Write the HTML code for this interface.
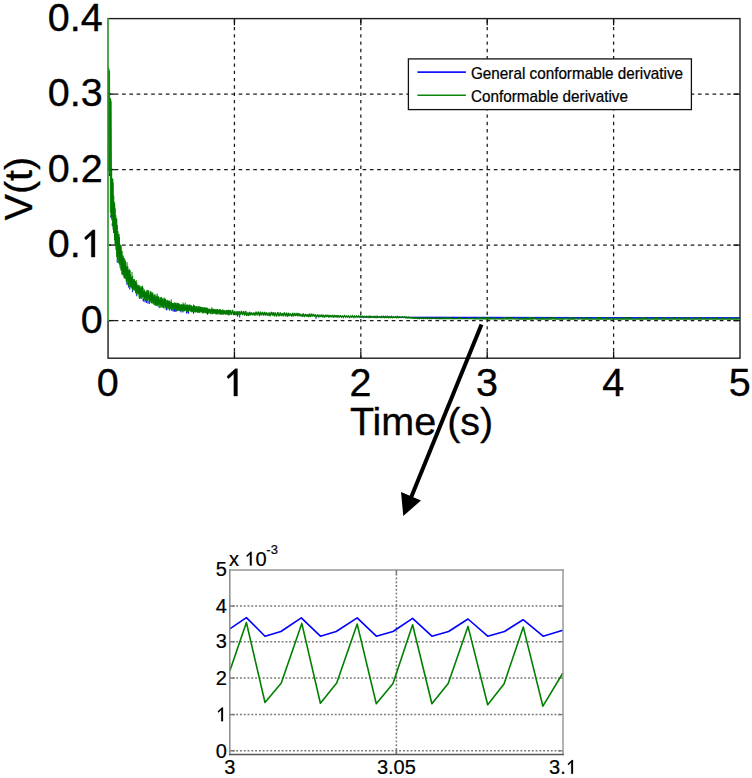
<!DOCTYPE html>
<html><head><meta charset="utf-8"><style>
html,body{margin:0;padding:0;background:#fff;width:752px;height:778px;overflow:hidden}
svg{display:block}
</style></head><body>
<svg width="752" height="778" viewBox="0 0 752 778">
<rect width="752" height="778" fill="#fff"/>
<g stroke="#1a1a1a" stroke-width="1.25" fill="none">
<line x1="234.44" y1="18.6" x2="234.44" y2="358.2" stroke-dasharray="3.35 3.95" stroke-dashoffset="6.3"/>
<line x1="360.83" y1="18.6" x2="360.83" y2="358.2" stroke-dasharray="3.35 3.95" stroke-dashoffset="6.3"/>
<line x1="487.22" y1="18.6" x2="487.22" y2="358.2" stroke-dasharray="3.35 3.95" stroke-dashoffset="6.3"/>
<line x1="613.61" y1="18.6" x2="613.61" y2="358.2" stroke-dasharray="3.35 3.95" stroke-dashoffset="6.3"/>
<line x1="108.05" y1="94.10" x2="740.0" y2="94.10" stroke-dasharray="3.65 3.64" stroke-dashoffset="0.6"/>
<line x1="108.05" y1="169.60" x2="740.0" y2="169.60" stroke-dasharray="3.65 3.64" stroke-dashoffset="0.6"/>
<line x1="108.05" y1="245.10" x2="740.0" y2="245.10" stroke-dasharray="3.65 3.64" stroke-dashoffset="0.6"/>
<line x1="108.05" y1="320.60" x2="740.0" y2="320.60" stroke-dasharray="3.65 3.64" stroke-dashoffset="0.6"/>
</g>
<g stroke="#111" stroke-width="1.3" fill="none">
<line x1="234.44" y1="358.2" x2="234.44" y2="351.5"/><line x1="234.44" y1="18.6" x2="234.44" y2="25.3"/>
<line x1="360.83" y1="358.2" x2="360.83" y2="351.5"/><line x1="360.83" y1="18.6" x2="360.83" y2="25.3"/>
<line x1="487.22" y1="358.2" x2="487.22" y2="351.5"/><line x1="487.22" y1="18.6" x2="487.22" y2="25.3"/>
<line x1="613.61" y1="358.2" x2="613.61" y2="351.5"/><line x1="613.61" y1="18.6" x2="613.61" y2="25.3"/>
<line x1="108.05" y1="94.10" x2="114.75" y2="94.10"/><line x1="740.0" y1="94.10" x2="733.3" y2="94.10"/>
<line x1="108.05" y1="169.60" x2="114.75" y2="169.60"/><line x1="740.0" y1="169.60" x2="733.3" y2="169.60"/>
<line x1="108.05" y1="245.10" x2="114.75" y2="245.10"/><line x1="740.0" y1="245.10" x2="733.3" y2="245.10"/>
<line x1="108.05" y1="320.60" x2="114.75" y2="320.60"/><line x1="740.0" y1="320.60" x2="733.3" y2="320.60"/>
</g>
<rect x="108.05" y="18.6" width="631.95" height="339.59999999999997" fill="none" stroke="#1e1e1e" stroke-width="1.4"/>
<line x1="108.05" y1="18.200000000000003" x2="108.05" y2="321.0" stroke="#52ad52" stroke-width="1.8"/>
<path d="M360.00 316.60V317.40M360.55 316.60V317.40M361.10 316.61V317.41M361.65 316.61V317.41M362.20 316.62V317.42M362.75 316.62V317.42M363.30 316.62V317.42M363.85 316.63V317.43M364.40 316.63V317.43M364.95 316.64V317.44M365.50 316.64V317.44M366.05 316.65V317.45M366.60 316.65V317.45M367.15 316.65V317.45M367.70 316.66V317.46M368.25 316.66V317.46M368.80 316.67V317.47M369.35 316.67V317.47M369.90 316.67V317.47M370.45 316.68V317.48M371.00 316.68V317.48M371.55 316.69V317.49M372.10 316.69V317.49M372.65 316.69V317.49M373.20 316.70V317.50M373.75 316.70V317.50M374.30 316.71V317.51M374.85 316.71V317.51M375.40 316.72V317.52M375.95 316.72V317.52M376.50 316.72V317.52M377.05 316.73V317.53M377.60 316.73V317.53M378.15 316.74V317.54M378.70 316.74V317.54M379.25 316.74V317.54M379.80 316.75V317.55M380.35 316.75V317.55M380.90 316.76V317.56M381.45 316.76V317.56M382.00 316.76V317.56M382.55 316.77V317.57M383.10 316.77V317.57M383.65 316.78V317.58M384.20 316.78V317.58M384.75 316.79V317.59M385.30 316.79V317.59M385.85 316.79V317.59M386.40 316.80V317.60M386.95 316.80V317.60M387.50 316.81V317.61M388.05 316.81V317.61M388.60 316.81V317.61M389.15 316.82V317.62M389.70 316.82V317.62M390.25 316.83V317.63M390.80 316.83V317.63M391.35 316.84V317.64M391.90 316.84V317.64M392.45 316.84V317.64M393.00 316.85V317.65M393.55 316.85V317.65M394.10 316.86V317.66M394.65 316.86V317.66M395.20 316.86V317.66M395.75 316.87V317.67M396.30 316.87V317.67M396.85 316.88V317.68M397.40 316.88V317.68M397.95 316.88V317.68M398.50 316.89V317.69M399.05 316.89V317.69M399.60 316.90V317.70M400.15 316.90V317.70M400.70 316.90V317.72M401.25 316.89V317.74M401.80 316.89V317.75M402.35 316.89V317.77M402.90 316.89V317.79M403.45 316.88V317.80M404.00 316.88V317.82M404.55 316.88V317.84M405.10 316.87V317.85M405.65 316.87V317.87M406.20 316.87V317.89M406.75 316.87V317.90M407.30 316.86V317.92M407.85 316.86V317.94M408.40 316.86V317.95M408.95 316.86V317.97M409.50 316.85V317.99M410.05 316.85V318.00M410.60 316.85V318.02M411.15 316.84V318.03M411.70 316.84V318.05M412.25 316.84V318.07M412.80 316.84V318.08M413.35 316.83V318.10M413.90 316.83V318.12M414.45 316.83V318.13M415.00 316.82V318.15M415.55 316.82V318.17M416.10 316.82V318.18M416.65 316.82V318.20M417.20 316.81V318.22M417.75 316.81V318.23M418.30 316.81V318.25M418.85 316.81V318.27M419.40 316.80V318.28M419.95 316.80V318.30M420.50 316.80V318.30M421.05 316.80V318.30M421.60 316.80V318.30M422.15 316.80V318.30M422.70 316.80V318.30M423.25 316.80V318.30M423.80 316.80V318.30M424.35 316.81V318.30M424.90 316.81V318.30M425.45 316.81V318.31M426.00 316.81V318.31M426.55 316.81V318.31M427.10 316.81V318.31M427.65 316.81V318.31M428.20 316.81V318.31M428.75 316.81V318.31M429.30 316.81V318.31M429.85 316.81V318.31M430.40 316.81V318.31M430.95 316.81V318.31M431.50 316.81V318.31M432.05 316.82V318.31M432.60 316.82V318.31M433.15 316.82V318.31M433.70 316.82V318.31M434.25 316.82V318.31M434.80 316.82V318.31M435.35 316.82V318.31M435.90 316.82V318.31M436.45 316.82V318.32M437.00 316.82V318.32M437.55 316.82V318.32M438.10 316.82V318.32M438.65 316.82V318.32M439.20 316.82V318.32M439.75 316.82V318.32M440.30 316.83V318.32M440.85 316.83V318.32M441.40 316.83V318.32M441.95 316.83V318.32M442.50 316.83V318.32M443.05 316.83V318.32M443.60 316.83V318.32M444.15 316.83V318.32M444.70 316.83V318.32M445.25 316.83V318.32M445.80 316.83V318.32M446.35 316.83V318.32M446.90 316.83V318.33M447.45 316.83V318.33M448.00 316.84V318.33M448.55 316.84V318.33M449.10 316.84V318.33M449.65 316.84V318.33M450.20 316.84V318.33M450.75 316.84V318.33M451.30 316.84V318.33M451.85 316.84V318.33M452.40 316.84V318.33M452.95 316.84V318.33M453.50 316.84V318.33M454.05 316.84V318.33M454.60 316.84V318.33M455.15 316.84V318.33M455.70 316.84V318.33M456.25 316.85V318.33M456.80 316.85V318.33M457.35 316.85V318.34M457.90 316.85V318.34M458.45 316.85V318.34M459.00 316.85V318.34M459.55 316.85V318.34M460.10 316.85V318.34M460.65 316.85V318.34M461.20 316.85V318.34M461.75 316.85V318.34M462.30 316.85V318.34M462.85 316.85V318.34M463.40 316.85V318.34M463.95 316.85V318.34M464.50 316.86V318.34M465.05 316.86V318.34M465.60 316.86V318.34M466.15 316.86V318.34M466.70 316.86V318.34M467.25 316.86V318.34M467.80 316.86V318.34M468.35 316.86V318.35M468.90 316.86V318.35M469.45 316.86V318.35M470.00 316.86V318.35M470.55 316.86V318.35M471.10 316.86V318.35M471.65 316.86V318.35M472.20 316.87V318.35M472.75 316.87V318.35M473.30 316.87V318.35M473.85 316.87V318.35M474.40 316.87V318.35M474.95 316.87V318.35M475.50 316.87V318.35M476.05 316.87V318.35M476.60 316.87V318.35M477.15 316.87V318.35M477.70 316.87V318.35M478.25 316.87V318.35M478.80 316.87V318.36M479.35 316.87V318.36M479.90 316.87V318.36M480.45 316.88V318.36M481.00 316.88V318.36M481.55 316.88V318.36M482.10 316.88V318.36M482.65 316.88V318.36M483.20 316.88V318.36M483.75 316.88V318.36M484.30 316.88V318.36M484.85 316.88V318.36M485.40 316.88V318.36M485.95 316.88V318.36M486.50 316.88V318.36M487.05 316.88V318.36M487.60 316.88V318.36M488.15 316.89V318.36M488.70 316.89V318.36M489.25 316.89V318.36M489.80 316.89V318.37M490.35 316.89V318.37M490.90 316.89V318.37M491.45 316.89V318.37M492.00 316.89V318.37M492.55 316.89V318.37M493.10 316.89V318.37M493.65 316.89V318.37M494.20 316.89V318.37M494.75 316.89V318.37M495.30 316.89V318.37M495.85 316.89V318.37M496.40 316.90V318.37M496.95 316.90V318.37M497.50 316.90V318.37M498.05 316.90V318.37M498.60 316.90V318.37M499.15 316.90V318.37M499.70 316.90V318.37M500.25 316.90V318.38M500.80 316.90V318.38M501.35 316.90V318.38M501.90 316.90V318.38M502.45 316.90V318.38M503.00 316.90V318.38M503.55 316.90V318.38M504.10 316.91V318.38M504.65 316.91V318.38M505.20 316.91V318.38M505.75 316.91V318.38M506.30 316.91V318.38M506.85 316.91V318.38M507.40 316.91V318.38M507.95 316.91V318.38M508.50 316.91V318.38M509.05 316.91V318.38M509.60 316.91V318.38M510.15 316.91V318.38M510.70 316.91V318.39M511.25 316.91V318.39M511.80 316.91V318.39M512.35 316.92V318.39M512.90 316.92V318.39M513.45 316.92V318.39M514.00 316.92V318.39M514.55 316.92V318.39M515.10 316.92V318.39M515.65 316.92V318.39M516.20 316.92V318.39M516.75 316.92V318.39M517.30 316.92V318.39M517.85 316.92V318.39M518.40 316.92V318.39M518.95 316.92V318.39M519.50 316.92V318.39M520.05 316.93V318.39M520.60 316.93V318.39M521.15 316.93V318.39M521.70 316.93V318.40M522.25 316.93V318.40M522.80 316.93V318.40M523.35 316.93V318.40M523.90 316.93V318.40M524.45 316.93V318.40M525.00 316.93V318.40M525.55 316.93V318.40M526.10 316.93V318.40M526.65 316.93V318.40M527.20 316.93V318.40M527.75 316.93V318.40M528.30 316.94V318.40M528.85 316.94V318.40M529.40 316.94V318.40M529.95 316.94V318.40M530.50 316.94V318.40M531.05 316.94V318.40M531.60 316.94V318.40M532.15 316.94V318.41M532.70 316.94V318.41M533.25 316.94V318.41M533.80 316.94V318.41M534.35 316.94V318.41M534.90 316.94V318.41M535.45 316.94V318.41M536.00 316.94V318.41M536.55 316.95V318.41M537.10 316.95V318.41M537.65 316.95V318.41M538.20 316.95V318.41M538.75 316.95V318.41M539.30 316.95V318.41M539.85 316.95V318.41M540.40 316.95V318.41M540.95 316.95V318.41M541.50 316.95V318.41M542.05 316.95V318.41M542.60 316.95V318.41M543.15 316.95V318.42M543.70 316.95V318.42M544.25 316.96V318.42M544.80 316.96V318.42M545.35 316.96V318.42M545.90 316.96V318.42M546.45 316.96V318.42M547.00 316.96V318.42M547.55 316.96V318.42M548.10 316.96V318.42M548.65 316.96V318.42M549.20 316.96V318.42M549.75 316.96V318.42M550.30 316.96V318.42M550.85 316.96V318.42M551.40 316.96V318.42M551.95 316.96V318.42M552.50 316.97V318.42M553.05 316.97V318.42M553.60 316.97V318.43M554.15 316.97V318.43M554.70 316.97V318.43M555.25 316.97V318.43M555.80 316.97V318.43M556.35 316.97V318.43M556.90 316.97V318.43M557.45 316.97V318.43M558.00 316.97V318.43M558.55 316.97V318.43M559.10 316.97V318.43M559.65 316.97V318.43M560.20 316.98V318.43M560.75 316.98V318.43M561.30 316.98V318.43M561.85 316.98V318.43M562.40 316.98V318.43M562.95 316.98V318.43M563.50 316.98V318.43M564.05 316.98V318.44M564.60 316.98V318.44M565.15 316.98V318.44M565.70 316.98V318.44M566.25 316.98V318.44M566.80 316.98V318.44M567.35 316.98V318.44M567.90 316.98V318.44M568.45 316.99V318.44M569.00 316.99V318.44M569.55 316.99V318.44M570.10 316.99V318.44M570.65 316.99V318.44M571.20 316.99V318.44M571.75 316.99V318.44M572.30 316.99V318.44M572.85 316.99V318.44M573.40 316.99V318.44M573.95 316.99V318.44M574.50 316.99V318.44M575.05 316.99V318.45M575.60 316.99V318.45M576.15 317.00V318.45M576.70 317.00V318.45M577.25 317.00V318.45M577.80 317.00V318.45M578.35 317.00V318.45M578.90 317.00V318.45M579.45 317.00V318.45M580.00 317.00V318.45M580.55 317.00V318.45M581.10 317.00V318.45M581.65 317.00V318.45M582.20 317.00V318.45M582.75 317.00V318.45M583.30 317.00V318.45M583.85 317.00V318.45M584.40 317.01V318.45M584.95 317.01V318.45M585.50 317.01V318.46M586.05 317.01V318.46M586.60 317.01V318.46M587.15 317.01V318.46M587.70 317.01V318.46M588.25 317.01V318.46M588.80 317.01V318.46M589.35 317.01V318.46M589.90 317.01V318.46M590.45 317.01V318.46M591.00 317.01V318.46M591.55 317.01V318.46M592.10 317.02V318.46M592.65 317.02V318.46M593.20 317.02V318.46M593.75 317.02V318.46M594.30 317.02V318.46M594.85 317.02V318.46M595.40 317.02V318.46M595.95 317.02V318.46M596.50 317.02V318.47M597.05 317.02V318.47M597.60 317.02V318.47M598.15 317.02V318.47M598.70 317.02V318.47M599.25 317.02V318.47M599.80 317.02V318.47M600.35 317.03V318.47M600.90 317.03V318.47M601.45 317.03V318.47M602.00 317.03V318.47M602.55 317.03V318.47M603.10 317.03V318.47M603.65 317.03V318.47M604.20 317.03V318.47M604.75 317.03V318.47M605.30 317.03V318.47M605.85 317.03V318.47M606.40 317.03V318.47M606.95 317.03V318.48M607.50 317.03V318.48M608.05 317.04V318.48M608.60 317.04V318.48M609.15 317.04V318.48M609.70 317.04V318.48M610.25 317.04V318.48M610.80 317.04V318.48M611.35 317.04V318.48M611.90 317.04V318.48M612.45 317.04V318.48M613.00 317.04V318.48M613.55 317.04V318.48M614.10 317.04V318.48M614.65 317.04V318.48M615.20 317.04V318.48M615.75 317.04V318.48M616.30 317.05V318.48M616.85 317.05V318.48M617.40 317.05V318.49M617.95 317.05V318.49M618.50 317.05V318.49M619.05 317.05V318.49M619.60 317.05V318.49M620.15 317.05V318.49M620.70 317.05V318.49M621.25 317.05V318.49M621.80 317.05V318.49M622.35 317.05V318.49M622.90 317.05V318.49M623.45 317.05V318.49M624.00 317.06V318.49M624.55 317.06V318.49M625.10 317.06V318.49M625.65 317.06V318.49M626.20 317.06V318.49M626.75 317.06V318.49M627.30 317.06V318.49M627.85 317.06V318.49M628.40 317.06V318.50M628.95 317.06V318.50M629.50 317.06V318.50M630.05 317.06V318.50M630.60 317.06V318.50M631.15 317.06V318.50M631.70 317.06V318.50M632.25 317.07V318.50M632.80 317.07V318.50M633.35 317.07V318.50M633.90 317.07V318.50M634.45 317.07V318.50M635.00 317.07V318.50M635.55 317.07V318.50M636.10 317.07V318.50M636.65 317.07V318.50M637.20 317.07V318.50M637.75 317.07V318.50M638.30 317.07V318.50M638.85 317.07V318.51M639.40 317.07V318.51M639.95 317.07V318.51M640.50 317.08V318.51M641.05 317.08V318.51M641.60 317.08V318.51M642.15 317.08V318.51M642.70 317.08V318.51M643.25 317.08V318.51M643.80 317.08V318.51M644.35 317.08V318.51M644.90 317.08V318.51M645.45 317.08V318.51M646.00 317.08V318.51M646.55 317.08V318.51M647.10 317.08V318.51M647.65 317.08V318.51M648.20 317.09V318.51M648.75 317.09V318.51M649.30 317.09V318.51M649.85 317.09V318.52M650.40 317.09V318.52M650.95 317.09V318.52M651.50 317.09V318.52M652.05 317.09V318.52M652.60 317.09V318.52M653.15 317.09V318.52M653.70 317.09V318.52M654.25 317.09V318.52M654.80 317.09V318.52M655.35 317.09V318.52M655.90 317.09V318.52M656.45 317.10V318.52M657.00 317.10V318.52M657.55 317.10V318.52M658.10 317.10V318.52M658.65 317.10V318.52M659.20 317.10V318.52M659.75 317.10V318.52M660.30 317.10V318.53M660.85 317.10V318.53M661.40 317.10V318.53M661.95 317.10V318.53M662.50 317.10V318.53M663.05 317.10V318.53M663.60 317.10V318.53M664.15 317.11V318.53M664.70 317.11V318.53M665.25 317.11V318.53M665.80 317.11V318.53M666.35 317.11V318.53M666.90 317.11V318.53M667.45 317.11V318.53M668.00 317.11V318.53M668.55 317.11V318.53M669.10 317.11V318.53M669.65 317.11V318.53M670.20 317.11V318.53M670.75 317.11V318.54M671.30 317.11V318.54M671.85 317.11V318.54M672.40 317.12V318.54M672.95 317.12V318.54M673.50 317.12V318.54M674.05 317.12V318.54M674.60 317.12V318.54M675.15 317.12V318.54M675.70 317.12V318.54M676.25 317.12V318.54M676.80 317.12V318.54M677.35 317.12V318.54M677.90 317.12V318.54M678.45 317.12V318.54M679.00 317.12V318.54M679.55 317.12V318.54M680.10 317.13V318.54M680.65 317.13V318.54M681.20 317.13V318.54M681.75 317.13V318.55M682.30 317.13V318.55M682.85 317.13V318.55M683.40 317.13V318.55M683.95 317.13V318.55M684.50 317.13V318.55M685.05 317.13V318.55M685.60 317.13V318.55M686.15 317.13V318.55M686.70 317.13V318.55M687.25 317.13V318.55M687.80 317.13V318.55M688.35 317.14V318.55M688.90 317.14V318.55M689.45 317.14V318.55M690.00 317.14V318.55M690.55 317.14V318.55M691.10 317.14V318.55M691.65 317.14V318.55M692.20 317.14V318.56M692.75 317.14V318.56M693.30 317.14V318.56M693.85 317.14V318.56M694.40 317.14V318.56M694.95 317.14V318.56M695.50 317.14V318.56M696.05 317.15V318.56M696.60 317.15V318.56M697.15 317.15V318.56M697.70 317.15V318.56M698.25 317.15V318.56M698.80 317.15V318.56M699.35 317.15V318.56M699.90 317.15V318.56M700.45 317.15V318.56M701.00 317.15V318.56M701.55 317.15V318.56M702.10 317.15V318.56M702.65 317.15V318.56M703.20 317.15V318.57M703.75 317.15V318.57M704.30 317.16V318.57M704.85 317.16V318.57M705.40 317.16V318.57M705.95 317.16V318.57M706.50 317.16V318.57M707.05 317.16V318.57M707.60 317.16V318.57M708.15 317.16V318.57M708.70 317.16V318.57M709.25 317.16V318.57M709.80 317.16V318.57M710.35 317.16V318.57M710.90 317.16V318.57M711.45 317.16V318.57M712.00 317.16V318.57M712.55 317.17V318.57M713.10 317.17V318.57M713.65 317.17V318.58M714.20 317.17V318.58M714.75 317.17V318.58M715.30 317.17V318.58M715.85 317.17V318.58M716.40 317.17V318.58M716.95 317.17V318.58M717.50 317.17V318.58M718.05 317.17V318.58M718.60 317.17V318.58M719.15 317.17V318.58M719.70 317.17V318.58M720.25 317.18V318.58M720.80 317.18V318.58M721.35 317.18V318.58M721.90 317.18V318.58M722.45 317.18V318.58M723.00 317.18V318.58M723.55 317.18V318.58M724.10 317.18V318.59M724.65 317.18V318.59M725.20 317.18V318.59M725.75 317.18V318.59M726.30 317.18V318.59M726.85 317.18V318.59M727.40 317.18V318.59M727.95 317.18V318.59M728.50 317.19V318.59M729.05 317.19V318.59M729.60 317.19V318.59M730.15 317.19V318.59M730.70 317.19V318.59M731.25 317.19V318.59M731.80 317.19V318.59M732.35 317.19V318.59M732.90 317.19V318.59M733.45 317.19V318.59M734.00 317.19V318.59M734.55 317.19V318.59M735.10 317.19V318.60M735.65 317.19V318.60M736.20 317.20V318.60M736.75 317.20V318.60M737.30 317.20V318.60M737.85 317.20V318.60M738.40 317.20V318.60M738.95 317.20V318.60M739.50 317.20V318.60M109.50 173.20V176.10M110.90 215.20V217.82M112.30 223.64V226.24M117.20 259.46V262.59M127.00 282.09V284.97M128.40 284.34V287.55M129.80 286.58V289.62M132.60 289.47V292.13M136.80 293.63V296.26M139.60 296.40V298.93M143.10 298.29V300.93M143.80 298.62V301.80M145.20 299.30V302.39M146.60 299.97V302.95M148.00 300.64V303.78M149.40 301.31V303.83M159.20 305.56V308.11M166.20 307.20V310.20M166.90 307.35V310.20M169.70 307.94V310.72M171.80 308.29V310.98M173.20 308.51V311.71M174.60 308.74V311.63M175.30 308.85V311.84M176.70 309.07V311.66M180.90 309.69V312.44M183.00 309.90V312.47M186.50 310.25V313.40M187.90 310.39V313.26M188.60 310.46V313.60M193.50 310.88V313.69M207.50 312.05V314.67M237.60 314.07V316.63M239.70 314.21V317.51M316.00 316.03V318.83" fill="none" stroke="#0000ff" stroke-width="1"/>
<path d="M108.90 68.16V171.13M109.60 70.56V173.94M110.30 97.94V212.76M111.00 101.22V216.79M111.70 168.12V220.17M112.40 179.18V225.63M113.10 182.64V229.56M113.80 195.70V233.16M114.50 202.23V240.26M115.20 208.32V245.17M115.90 214.92V249.94M116.60 218.97V256.91M117.30 225.10V259.44M118.00 231.08V262.70M118.70 234.55V263.44M119.40 237.03V263.50M120.10 244.21V268.03M120.80 245.29V270.59M121.50 251.74V269.60M122.20 251.00V275.33M122.90 255.03V274.17M123.60 257.78V275.47M124.30 258.12V278.26M125.00 259.26V278.88M125.70 266.34V278.71M126.40 265.92V282.49M127.10 262.26V280.93M127.80 266.36V284.30M128.50 270.14V286.03M129.20 268.77V286.92M129.90 270.24V286.52M130.60 274.52V287.17M131.30 276.99V287.97M132.00 271.98V289.10M132.70 275.69V290.90M133.40 279.45V289.70M134.10 279.72V290.57M134.80 281.39V290.28M135.50 281.08V292.98M136.20 279.96V294.51M136.90 282.48V293.81M137.60 285.72V293.40M138.30 285.42V293.37M139.00 285.70V297.54M139.70 285.35V298.14M140.40 288.69V298.23M141.10 287.62V298.94M141.80 287.46V298.91M142.50 285.71V297.43M143.20 287.69V297.20M143.90 291.98V298.66M144.60 289.67V300.23M145.30 292.54V300.85M146.00 291.77V300.75M146.70 290.32V301.02M147.40 289.82V300.96M148.10 290.82V300.18M148.80 290.09V299.72M149.50 295.31V302.74M150.20 293.39V300.94M150.90 291.38V301.48M151.60 292.46V303.00M152.30 294.28V303.61M153.00 294.85V301.93M153.70 295.20V304.52M154.40 294.22V305.24M155.10 295.65V303.32M155.80 294.43V305.88M156.50 296.52V306.02M157.20 293.48V305.35M157.90 295.68V306.66M158.60 296.32V305.87M159.30 300.00V304.34M160.00 298.82V305.20M160.70 297.10V307.74M161.40 296.77V306.59M162.10 298.18V308.07M162.80 298.68V306.90M163.50 300.21V308.28M164.20 297.53V308.53M164.90 299.87V306.30M165.60 298.93V306.73M166.30 302.60V307.20M167.00 299.87V308.55M167.70 300.50V308.63M168.40 300.76V309.38M169.10 300.69V308.32M169.80 300.93V307.87M170.50 303.79V308.50M171.20 299.40V309.99M171.90 303.01V307.74M172.60 303.01V310.18M173.30 303.03V309.33M174.00 302.82V309.40M174.70 302.30V308.68M175.40 302.78V309.52M176.10 305.25V309.56M176.80 302.59V310.87M177.50 305.74V311.00M178.20 303.11V309.95M178.90 303.45V310.93M179.60 303.91V311.05M180.30 305.42V311.35M181.00 305.81V311.35M181.70 304.09V311.33M182.40 304.91V310.93M183.10 302.52V310.17M183.80 304.12V311.44M184.50 304.76V310.77M185.20 302.70V310.21M185.90 306.27V309.97M186.60 304.57V311.44M187.30 305.79V311.64M188.00 304.79V311.77M188.70 305.34V312.19M189.40 306.21V310.64M190.10 307.24V310.77M190.80 305.14V311.77M191.50 305.38V312.28M192.20 306.46V312.10M192.90 305.93V312.31M193.60 304.48V312.42M194.30 306.66V311.67M195.00 305.92V312.45M195.70 306.40V312.46M196.40 305.94V311.96M197.10 306.28V310.93M197.80 308.11V313.01M198.50 306.97V312.58M199.20 306.16V312.45M199.90 306.73V313.09M200.60 307.38V311.87M201.30 307.53V311.75M202.00 307.40V313.29M202.70 307.92V313.36M203.40 307.98V313.01M204.10 307.48V313.39M204.80 307.42V312.40M205.50 307.84V312.95M206.20 307.51V313.64M206.90 308.10V313.55M207.60 307.97V312.78M208.30 309.20V312.86M209.00 309.42V313.75M209.70 309.51V312.55M210.40 309.90V314.06M211.10 308.82V312.68M211.80 307.43V314.22M212.50 308.44V314.19M213.20 309.28V314.00M213.90 308.80V313.72M214.60 309.39V313.08M215.30 309.65V314.09M216.00 310.13V314.53M216.70 309.15V313.54M217.40 309.02V314.30M218.10 310.19V314.41M218.80 309.82V313.33M219.50 309.61V314.24M220.20 310.77V314.74M220.90 309.96V314.41M221.60 309.94V314.49M222.30 309.68V314.18M223.00 309.48V314.70M223.70 310.15V313.37M224.40 311.25V313.65M225.10 310.59V314.12M225.80 310.80V314.60M226.50 310.18V314.13M227.20 310.00V314.43M227.90 309.83V315.17M228.60 309.85V315.28M229.30 310.54V315.30M230.00 310.05V314.86M406.65 317.03V318.60M408.30 317.03V318.60M409.95 317.26V318.60M413.80 317.33V318.60M414.35 317.53V318.60M414.90 317.41V318.60M416.00 317.54V318.60M417.10 317.42V318.60M417.65 317.30V318.60M418.75 317.19V318.60M419.85 317.09V318.60M422.05 317.19V318.60M424.25 317.01V318.60M425.35 317.51V318.60M428.65 317.44V318.60M430.85 317.38V318.60M431.40 317.42V318.60M433.60 317.23V318.60M438.55 317.43V318.60M441.85 317.24V318.60M442.40 317.25V318.60M444.60 317.59V318.60M445.15 317.49V318.60M445.70 317.24V318.60M446.25 317.51V318.60M447.35 317.32V318.60M447.90 317.30V318.60M449.00 317.52V318.60M449.55 317.27V318.60M450.10 317.00V318.60M450.65 317.21V318.60M458.90 317.02V318.60M459.45 317.13V318.60M460.00 317.03V318.60M460.55 317.36V318.60M467.15 317.52V318.60M469.35 317.30V318.60M469.90 317.03V318.60M472.10 317.33V318.60M476.50 317.33V318.60M477.60 317.59V318.60M479.25 317.27V318.60M479.80 317.03V318.60M480.35 317.15V318.60M481.45 317.41V318.60M482.00 317.04V318.60M482.55 317.41V318.60M484.75 317.29V318.60M485.85 317.44V318.60M486.40 317.12V318.60M486.95 317.06V318.60M488.60 317.00V318.60M489.15 317.13V318.60M491.90 317.37V318.60M493.00 317.51V318.60M494.65 317.38V318.60M495.75 317.46V318.60M501.25 317.17V318.60M501.80 317.04V318.60M503.45 317.09V318.60M504.55 317.22V318.60M505.65 317.25V318.60M506.75 317.04V318.60M508.40 317.29V318.60M508.95 317.54V318.60M510.05 317.31V318.60M510.60 317.24V318.60M512.25 317.20V318.60M516.10 317.22V318.60M519.95 317.19V318.60M522.15 317.47V318.60M524.35 317.31V318.60M524.90 317.21V318.60M527.10 317.60V318.60M528.75 317.39V318.60M529.30 317.22V318.60M529.85 317.04V318.60M530.40 317.11V318.60M531.50 317.50V318.60M532.05 317.03V318.60M532.60 317.56V318.60M533.70 317.56V318.60M534.25 317.16V318.60M535.35 317.58V318.60M537.55 317.44V318.60M539.20 317.48V318.60M541.40 317.18V318.60M542.50 317.35V318.60M543.05 317.15V318.60M544.70 317.42V318.60M548.55 317.42V318.60M550.75 317.13V318.60M551.85 317.15V318.60M552.40 317.19V318.60M553.50 317.17V318.60M554.05 317.09V318.60M556.80 317.21V318.60M560.65 317.55V318.60M561.75 317.13V318.60M563.95 317.11V318.60M567.25 317.39V318.60M568.90 317.07V318.60M570.00 317.27V318.60M570.55 317.42V318.60M571.65 317.55V318.60M572.20 317.18V318.60M573.85 317.44V318.60M574.95 317.10V318.60M576.05 317.56V318.60M579.90 317.02V318.60M581.00 317.57V318.60M583.20 317.01V318.60M583.75 317.27V318.60M584.30 317.17V318.60M586.50 317.32V318.60M587.60 317.51V318.60M590.35 317.34V318.60M593.65 317.12V318.60M596.40 317.32V318.60M597.50 317.29V318.60M598.60 317.03V318.60M599.15 317.41V318.60M600.25 317.51V318.60M600.80 317.32V318.60M601.90 317.29V318.60M606.30 317.20V318.60M606.85 317.24V318.60M607.95 317.25V318.60M609.60 317.43V318.60M611.80 317.50V318.60M612.90 317.56V318.60M613.45 317.12V318.60M616.75 317.56V318.60M618.95 317.49V318.60M620.05 317.21V318.60M621.70 317.53V318.60M622.25 317.44V318.60M624.45 317.29V318.60M626.10 317.01V318.60M628.30 317.22V318.60M630.50 317.20V318.60M633.80 317.59V318.60M635.45 317.54V318.60M637.65 317.46V318.60M638.75 317.50V318.60M640.95 317.14V318.60M642.05 317.08V318.60M643.70 317.20V318.60M644.25 317.08V318.60M644.80 317.35V318.60M645.90 317.50V318.60M648.10 317.48V318.60M649.75 317.15V318.60M653.60 317.34V318.60M654.70 317.28V318.60M656.35 317.31V318.60M656.90 317.04V318.60M658.00 317.30V318.60M659.10 317.59V318.60M662.95 317.53V318.60M663.50 317.44V318.60M664.05 317.18V318.60M664.60 317.37V318.60M665.15 317.34V318.60M665.70 317.24V318.60M669.55 317.14V318.60M670.10 317.24V318.60M671.75 317.10V318.60M674.50 317.33V318.60M678.35 317.16V318.60M678.90 317.03V318.60M679.45 317.54V318.60M681.65 317.21V318.60M683.85 317.03V318.60M684.40 317.45V318.60M685.50 317.49V318.60M686.05 317.50V318.60M688.25 317.56V318.60M688.80 317.16V318.60M691.55 317.07V318.60M694.30 317.09V318.60M695.40 317.02V318.60M698.15 317.57V318.60M698.70 317.29V318.60M699.80 317.06V318.60M700.35 317.48V318.60M704.20 317.40V318.60M704.75 317.31V318.60M710.80 317.27V318.60M711.35 317.13V318.60M714.65 317.43V318.60M715.75 317.21V318.60M716.85 317.48V318.60M721.80 317.55V318.60M722.35 317.17V318.60M723.45 317.25V318.60M727.30 317.41V318.60M728.40 317.47V318.60M729.50 317.37V318.60M730.05 317.22V318.60M733.35 317.59V318.60M733.90 317.54V318.60M735.55 317.28V318.60M737.75 317.02V318.60M738.85 317.58V318.60" fill="none" stroke="#008000" stroke-width="1"/>
<path d="M110.60,99.19 L111.54,217.26 L112.62,178.60 L113.65,232.94 L114.55,203.88 L115.44,246.20 L116.50,218.32 L117.58,259.47 L118.83,233.81 L119.94,265.32 L120.90,245.23 L122.15,274.10 L123.12,256.33 L124.21,277.78 L125.37,261.15 L126.51,281.80 L127.39,266.87 L128.62,285.66 L129.72,270.04 L130.87,286.92 L131.81,276.52 L132.92,289.12 L134.11,279.18 L135.27,290.56 L136.15,283.25 L137.15,294.16 L138.06,284.71 L139.02,294.43 L139.97,286.35 L140.98,297.02 L141.90,286.41 L143.06,297.50 L144.14,290.30 L145.06,298.09 L145.97,291.56 L147.08,300.06 L148.32,292.18 L149.50,302.62 L150.49,291.44 L151.41,303.22 L152.61,292.64 L153.58,303.45 L154.77,296.35 L155.91,305.17 L156.98,296.51 L157.84,304.74 L158.84,297.10 L159.96,305.72 L161.02,298.01 L161.94,306.71 L162.83,298.53 L163.90,306.34 L164.90,298.57 L165.97,308.23 L167.12,300.05 L168.12,306.95 L169.12,300.78 L170.11,308.60 L170.99,301.82 L172.21,308.77 L173.37,303.51 L174.56,308.73 L175.74,303.73 L176.69,309.71 L177.67,303.03 L178.75,310.36 L179.85,304.20 L180.74,310.42 L181.74,304.70 L182.62,311.03 L183.67,304.28 L184.79,311.02 L185.71,305.70 L186.66,311.46 L187.61,304.61 L188.55,311.03 L189.78,304.56 L190.80,310.96 L192.01,306.66 L192.91,311.43 L194.12,305.26 L195.21,312.19 L196.37,307.18 L197.43,312.49 L198.30,306.43 L199.50,312.47 L200.62,306.80 L201.57,311.91 L202.54,307.03 L203.70,312.48 L204.87,307.58 L205.78,312.75 L206.98,307.96 L208.23,313.41 L209.21,308.64 L210.34,312.99 L211.46,309.15 L212.59,313.22 L213.66,309.06 L214.64,313.21 L215.74,309.51 L216.78,314.10 L217.84,309.80 L218.95,313.54 L219.96,309.16 L221.10,314.34 L222.30,310.15 L223.55,314.45 L224.43,310.34 L225.44,314.44 L226.44,310.07 L227.35,314.29 L228.47,310.32 L229.31,313.89 L230.34,310.03 L231.41,314.79 L232.63,309.95 L233.69,315.03 L234.79,311.10 L236.00,315.20 L237.11,311.27 L238.03,315.06 L239.17,311.17 L240.20,314.90 L241.32,310.81 L242.43,315.14 L243.57,311.20 L244.55,315.48 L245.77,311.04 L246.68,315.98 L247.87,312.33 L248.81,315.95 L249.74,311.85 L250.78,315.30 L251.71,312.36 L252.74,315.36 L253.92,312.48 L254.97,315.70 L256.05,311.60 L257.10,315.24 L258.32,311.59 L259.44,316.11 L260.33,311.71 L261.51,315.26 L262.57,312.00 L263.62,315.52 L264.77,311.82 L265.70,315.49 L266.75,312.48 L267.92,315.87 L269.07,312.40 L270.00,316.39 L271.26,312.02 L272.39,315.59 L273.33,312.10 L274.33,316.33 L275.37,312.47 L276.60,316.53 L277.84,312.26 L279.07,316.40 L280.22,312.33 L281.25,316.04 L282.35,313.17 L283.26,316.40 L284.35,312.47 L285.54,316.42 L286.49,312.65 L287.60,316.72 L288.54,312.78 L289.49,316.11 L290.58,313.56 L291.72,316.62 L292.69,312.80 L293.63,316.34 L294.78,312.98 L295.77,316.12 L297.01,312.92 L297.88,316.22 L298.93,313.24 L300.03,316.25 L300.90,313.97 L302.14,316.70 L303.18,313.34 L304.27,316.93 L305.33,314.13 L306.39,316.38 L307.30,314.22 L308.19,317.03 L309.33,313.74 L310.22,317.15 L311.40,313.72 L312.26,316.43 L313.43,314.04 L314.35,316.60 L315.52,314.44 L316.58,317.03 L317.83,314.44 L318.71,317.38 L319.80,314.75 L320.90,316.96 L321.87,314.56 L322.82,317.33 L323.77,315.08 L324.67,317.49 L325.81,314.82 L326.80,316.91 L328.01,314.85 L328.92,317.43 L330.00,315.04 L331.09,317.31 L332.27,315.06 L333.38,317.67 L334.25,315.05 L335.14,317.22 L336.13,315.33 L337.16,317.59 L338.02,315.22 L339.22,317.52 L340.24,315.32 L341.39,317.28 L342.39,315.52 L343.40,317.36 L344.49,315.63 L345.70,317.09 L346.57,315.58 L347.42,317.46 L348.60,315.81 L349.68,317.56 L350.86,315.83 L351.83,317.22 L352.68,315.69 L353.85,317.54 L354.75,315.89 L355.89,317.33 L356.74,315.85 L357.88,317.43 L358.80,315.86 L359.75,317.14 L360.61,316.07 L361.83,317.28 L362.79,316.14 L363.68,317.39 L364.63,316.29 L365.84,317.29 L366.83,316.27 L368.09,317.48 L369.15,316.05 L370.03,317.35 L370.90,316.23 L371.79,317.39 L372.94,316.42 L373.95,317.53 L374.95,316.33 L376.12,317.63 L377.10,316.13 L378.04,317.42 L379.27,316.52 L380.14,317.58 L381.35,316.32 L382.33,317.44 L383.54,316.23 L384.59,317.70 L385.51,316.38 L386.46,317.47 L387.45,316.29 L388.55,317.70 L389.42,316.66 L390.34,317.75 L391.38,316.32 L392.55,317.78 L393.41,316.69 L394.47,317.48 L395.68,316.60 L396.54,317.64 L397.40,316.40 L398.60,317.78 L399.75,316.57 L400.92,317.68 L402.17,316.58 L403.37,317.62 L404.45,316.62 L405.48,317.73 L406.40,316.81 L407.51,317.89 L408.44,317.06 L409.62,317.82 L410.81,317.52 L411.90,317.99 L413.11,317.85 L414.24,318.02 L415.39,318.19 L416.64,317.98 L417.70,318.62 L418.64,318.04 L419.51,318.62 L420.47,318.10 L421.49,318.61 L422.34,318.11 L423.59,318.69 L424.61,318.15 L425.50,318.64 L426.62,318.10 L427.65,318.71 L428.83,318.12 L429.81,318.66 L430.72,318.19 L431.58,318.66 L432.49,318.23 L433.40,318.62 L434.42,318.26 L435.49,318.63 L436.54,318.30 L437.41,318.66 L438.53,318.33 L439.67,318.72 L440.52,318.36 L441.48,318.69 L442.52,318.35 L443.39,318.66 L444.30,318.35 L445.43,318.66 L446.63,318.45 L447.48,318.67 L448.60,318.37 L449.66,318.65 L450.75,318.51 L451.93,318.67 L452.81,318.53 L454.00,318.76 L454.92,318.44 L456.12,318.68 L456.98,318.59 L458.00,318.67 L458.92,318.61 L460.13,318.66 L461.36,318.62 L462.51,318.71 L463.74,318.68 L464.69,318.71 L465.74,318.69 L466.71,318.67 L467.76,318.65 L468.97,318.71 L470.22,318.66 L471.19,318.68 L472.38,318.69 L473.50,318.80 L474.54,318.79 L475.41,318.71 L476.64,318.86 L477.53,318.69 L478.58,318.83 L479.65,318.79 L480.77,318.85 L481.87,318.74 L482.74,318.94 L483.85,318.71 L484.86,318.91 L485.95,318.71 L486.91,318.99 L488.02,318.78 L488.92,318.98 L489.82,318.76 L490.79,318.90 L491.74,318.77 L492.85,318.89 L493.99,318.82 L495.07,319.01 L496.05,318.79 L497.04,318.94 L497.92,318.77 L498.93,318.90 L499.80,318.74 L500.96,318.98 L501.99,318.74 L502.87,318.99 L504.08,318.80 L505.05,318.95 L506.23,318.81 L507.09,319.01 L508.33,318.74 L509.50,318.96 L510.70,318.72 L511.94,318.92 L512.88,318.80 L513.72,318.92 L514.73,318.80 L515.91,319.03 L517.12,318.73 L518.02,318.99 L518.97,318.79 L519.89,318.97 L521.05,318.85 L522.06,319.01 L523.14,318.80 L524.37,318.98 L525.39,318.75 L526.54,318.97 L527.41,318.76 L528.32,318.99 L529.32,318.75 L530.38,318.97 L531.36,318.83 L532.24,319.04 L533.38,318.79 L534.54,318.93 L535.59,318.84 L536.70,319.00 L537.76,318.87 L538.74,319.01 L539.78,318.81 L540.65,318.98 L541.50,318.78 L542.53,319.00 L543.61,318.81 L544.46,319.03 L545.61,318.79 L546.79,319.00 L547.87,318.82 L549.13,319.05 L550.02,318.76 L550.94,319.06 L552.20,318.76 L553.24,318.96 L554.28,318.77 L555.24,319.03 L556.21,318.80 L557.22,319.06 L558.43,318.88 L559.51,319.06 L560.73,318.79 L561.73,319.05 L562.96,318.84 L563.92,319.04 L564.94,318.80 L566.06,318.95 L566.92,318.87 L568.12,319.06 L569.37,318.88 L570.51,319.07 L571.54,318.86 L572.61,319.07 L573.77,318.81 L574.71,319.05 L575.59,318.81 L576.44,318.95 L577.33,318.80 L578.30,319.04 L579.28,318.89 L580.20,318.96 L581.21,318.91 L582.19,319.08 L583.38,318.79 L584.53,318.98 L585.46,318.81 L586.54,318.99 L587.74,318.83 L588.81,319.00 L589.72,318.90 L590.92,319.08 L592.03,318.87 L593.14,319.09 L594.00,318.81 L594.89,319.05 L596.04,318.85 L597.26,319.05 L598.29,318.80 L599.53,319.03 L600.78,318.91 L601.66,319.04 L602.70,318.88 L603.56,319.03 L604.66,318.83 L605.55,319.03 L606.41,318.83 L607.26,319.08 L608.20,318.87 L609.33,319.03 L610.34,318.89 L611.46,319.05 L612.63,318.93 L613.67,318.98 L614.77,318.84 L615.81,319.03 L616.79,318.92 L617.79,319.04 L618.99,318.91 L620.11,319.02 L621.27,318.87 L622.29,318.99 L623.20,318.82 L624.17,319.09 L625.42,318.87 L626.63,319.05 L627.56,318.92 L628.77,319.09 L629.93,318.87 L630.85,319.08 L632.00,318.83 L633.09,319.05 L634.15,318.83 L635.34,319.05 L636.47,318.89 L637.45,319.02 L638.45,318.94 L639.48,319.09 L640.52,318.86 L641.76,319.08 L642.97,318.83 L643.87,319.08 L645.02,318.89 L646.04,319.07 L647.23,318.85 L648.40,319.07 L649.53,318.93 L650.55,319.09 L651.49,318.85 L652.37,319.07 L653.48,318.87 L654.72,318.99 L655.89,318.93 L656.86,319.02 L657.72,318.84 L658.59,319.08 L659.74,318.84 L660.74,319.04 L661.94,318.90 L662.88,319.10 L663.93,318.94 L665.12,319.04 L666.04,318.85 L666.90,319.08 L667.96,318.86 L669.06,319.08 L670.23,318.90 L671.40,319.08 L672.47,318.96 L673.32,318.99 L674.41,318.98 L675.37,319.06 L676.50,318.91 L677.60,319.00 L678.51,318.93 L679.53,318.99 L680.77,318.89 L681.76,318.99 L683.00,318.94 L684.22,318.98 L685.26,318.89 L686.12,319.06 L687.05,318.94 L688.15,318.99 L689.28,318.88 L690.28,319.06 L691.34,318.98 L692.45,319.08 L693.41,318.92 L694.28,319.06 L695.50,318.98 L696.57,319.05 L697.55,318.93 L698.58,319.03 L699.82,318.95 L700.72,319.09 L701.85,318.99 L702.94,319.00 L703.90,318.89 L705.15,319.00 L706.18,318.97 L707.29,319.01 L708.38,318.95 L709.61,319.06 L710.76,319.00 L711.62,319.08 L712.61,318.93 L713.64,318.99 L714.56,318.90 L715.44,319.09 L716.53,318.88 L717.76,319.02 L718.64,318.97 L719.53,319.05 L720.46,318.89 L721.52,319.00 L722.40,318.90 L723.44,318.98 L724.43,318.99 L725.50,319.06 L726.66,318.90 L727.72,319.10 L728.78,319.02 L729.65,319.10 L730.73,319.01 L731.81,318.98 L732.78,319.02 L733.71,319.02 L734.69,318.99 L735.55,319.08 L736.77,318.98 L737.82,319.07 L739.05,318.91" fill="none" stroke="#007800" stroke-width="1.3" stroke-linejoin="miter" stroke-miterlimit="2"/>
<rect x="408.4" y="58.9" width="283" height="50.7" fill="#fff" stroke="#111" stroke-width="1.3"/>
<line x1="417.4" y1="72.1" x2="465.9" y2="72.1" stroke="#1515ff" stroke-width="1.6"/>
<line x1="417.4" y1="95.2" x2="465.9" y2="95.2" stroke="#0a850a" stroke-width="1.6"/>
<text transform="translate(471.0,78.5) scale(0.955,1)" font-size="16" font-family="Liberation Sans, sans-serif" fill="#000" stroke="#000" stroke-width="0.25">General conformable derivative</text>
<text transform="translate(471.0,101.9) scale(0.955,1)" font-size="16" font-family="Liberation Sans, sans-serif" fill="#000" stroke="#000" stroke-width="0.25">Conformable derivative</text>
<text x="96.77" y="396.00" font-size="39.5" font-family="Liberation Sans, sans-serif" fill="#000" stroke="#000" stroke-width="0.35">0</text>
<path transform="translate(223.16,396.00) scale(0.01929,-0.01929)" d="M555 0L741 0L741 1409L625 1409L215 1035L212 975L240 925L290 905L555 1150Z" fill="#000" stroke="#000" stroke-width="18.1" stroke-linejoin="round"/>
<text x="349.55" y="396.00" font-size="39.5" font-family="Liberation Sans, sans-serif" fill="#000" stroke="#000" stroke-width="0.35">2</text>
<text x="475.94" y="396.00" font-size="39.5" font-family="Liberation Sans, sans-serif" fill="#000" stroke="#000" stroke-width="0.35">3</text>
<text x="602.33" y="396.00" font-size="39.5" font-family="Liberation Sans, sans-serif" fill="#000" stroke="#000" stroke-width="0.35">4</text>
<text x="728.72" y="396.00" font-size="39.5" font-family="Liberation Sans, sans-serif" fill="#000" stroke="#000" stroke-width="0.35">5</text>
<text x="47.69" y="30.60" font-size="39.5" font-family="Liberation Sans, sans-serif" fill="#000" stroke="#000" stroke-width="0.35">0</text>
<text x="69.66" y="30.60" font-size="39.5" font-family="Liberation Sans, sans-serif" fill="#000" stroke="#000" stroke-width="0.35">.</text>
<text x="80.63" y="30.60" font-size="39.5" font-family="Liberation Sans, sans-serif" fill="#000" stroke="#000" stroke-width="0.35">4</text>
<text x="47.69" y="106.10" font-size="39.5" font-family="Liberation Sans, sans-serif" fill="#000" stroke="#000" stroke-width="0.35">0</text>
<text x="69.66" y="106.10" font-size="39.5" font-family="Liberation Sans, sans-serif" fill="#000" stroke="#000" stroke-width="0.35">.</text>
<text x="80.63" y="106.10" font-size="39.5" font-family="Liberation Sans, sans-serif" fill="#000" stroke="#000" stroke-width="0.35">3</text>
<text x="47.69" y="181.60" font-size="39.5" font-family="Liberation Sans, sans-serif" fill="#000" stroke="#000" stroke-width="0.35">0</text>
<text x="69.66" y="181.60" font-size="39.5" font-family="Liberation Sans, sans-serif" fill="#000" stroke="#000" stroke-width="0.35">.</text>
<text x="80.63" y="181.60" font-size="39.5" font-family="Liberation Sans, sans-serif" fill="#000" stroke="#000" stroke-width="0.35">2</text>
<text x="47.69" y="257.10" font-size="39.5" font-family="Liberation Sans, sans-serif" fill="#000" stroke="#000" stroke-width="0.35">0</text>
<text x="69.66" y="257.10" font-size="39.5" font-family="Liberation Sans, sans-serif" fill="#000" stroke="#000" stroke-width="0.35">.</text>
<path transform="translate(80.63,257.10) scale(0.01929,-0.01929)" d="M555 0L741 0L741 1409L625 1409L215 1035L212 975L240 925L290 905L555 1150Z" fill="#000" stroke="#000" stroke-width="18.1" stroke-linejoin="round"/>
<text x="80.63" y="332.60" font-size="39.5" font-family="Liberation Sans, sans-serif" fill="#000" stroke="#000" stroke-width="0.35">0</text>
<text x="421.6" y="434.8" font-size="39.5" font-family="Liberation Sans, sans-serif" text-anchor="middle" fill="#000" stroke="#000" stroke-width="0.3">Time (s)</text>
<text transform="translate(32,188.6) rotate(-90)" x="0" y="0" font-size="39.5" font-family="Liberation Sans, sans-serif" text-anchor="middle" fill="#000" stroke="#000" stroke-width="0.3">V(t)</text>
<line x1="481.5" y1="324.6" x2="408" y2="505" stroke="#000" stroke-width="4"/>
<polygon points="403.3,516 401,491.9 421,500.5" fill="#000"/>
<g stroke="#7a7a7a" stroke-width="1.5" stroke-dasharray="1.9 1.89" fill="none">
<line x1="396.40" y1="569.9" x2="396.40" y2="754.4"/>
<line x1="229.8" y1="750.80" x2="563.0" y2="750.80" stroke-dashoffset="1.2"/>
<line x1="229.8" y1="714.60" x2="563.0" y2="714.60" stroke-dashoffset="1.2"/>
<line x1="229.8" y1="678.00" x2="563.0" y2="678.00" stroke-dashoffset="1.2"/>
<line x1="229.8" y1="641.70" x2="563.0" y2="641.70" stroke-dashoffset="1.2"/>
<line x1="229.8" y1="606.05" x2="563.0" y2="606.05" stroke-dashoffset="1.2"/>
</g>
<g stroke="#777" stroke-width="1.4" fill="none">
<line x1="229.8" y1="750.80" x2="234.8" y2="750.80"/><line x1="563.0" y1="750.80" x2="558.5" y2="750.80"/>
<line x1="229.8" y1="714.60" x2="234.8" y2="714.60"/><line x1="563.0" y1="714.60" x2="558.5" y2="714.60"/>
<line x1="229.8" y1="678.00" x2="234.8" y2="678.00"/><line x1="563.0" y1="678.00" x2="558.5" y2="678.00"/>
<line x1="229.8" y1="641.70" x2="234.8" y2="641.70"/><line x1="563.0" y1="641.70" x2="558.5" y2="641.70"/>
<line x1="229.8" y1="606.05" x2="234.8" y2="606.05"/><line x1="563.0" y1="606.05" x2="558.5" y2="606.05"/>
<line x1="396.40" y1="754.4" x2="396.40" y2="749.4"/><line x1="396.40" y1="569.9" x2="396.40" y2="574.9"/>
</g>
<polyline points="229.8,628.8 246.4,617.6 265,636.2 280.9,631.5 301.3,617.8 320.4,636.2 336.2,631.5 357.2,617.8 376.3,636.2 393,631.5 412.6,618.3 431.9,636.2 448.6,631.5 468,619 487.7,636.2 504.5,631.5 523.1,619.7 543.1,636.2 562.9,630.2" fill="none" stroke="#0000ff" stroke-width="1.6" stroke-linejoin="round"/>
<polyline points="229.8,671.0 246.4,622.5 265,702.5 281.3,683 301.8,623.4 320.4,703.2 336.7,683 357.2,624.1 376.3,703.7 393,683.4 412.6,624.8 431.9,703.7 448.2,683.4 468,626.4 487.7,704.8 504,683.9 523.3,627.1 542.9,706.2 562.9,673.0" fill="none" stroke="#008000" stroke-width="1.6" stroke-linejoin="round"/>
<g fill="none" stroke-width="1.5" stroke-linecap="square"><line x1="229.8" y1="569.9" x2="563.0" y2="569.9" stroke="#949494"/><line x1="229.8" y1="569.9" x2="229.8" y2="754.4" stroke="#8a8a8a"/><line x1="563.0" y1="569.9" x2="563.0" y2="754.4" stroke="#9a9a9a"/><line x1="229.8" y1="754.4" x2="563.0" y2="754.4" stroke="#555"/></g>
<text x="215.78" y="757.50" font-size="20" font-family="Liberation Sans, sans-serif" fill="#000" stroke="#000" stroke-width="0.2">0</text>
<path transform="translate(215.78,721.30) scale(0.00977,-0.00977)" d="M555 0L741 0L741 1409L625 1409L215 1035L212 975L240 925L290 905L555 1150Z" fill="#000" stroke="#000" stroke-width="20.5" stroke-linejoin="round"/>
<text x="215.78" y="684.70" font-size="20" font-family="Liberation Sans, sans-serif" fill="#000" stroke="#000" stroke-width="0.2">2</text>
<text x="215.78" y="648.40" font-size="20" font-family="Liberation Sans, sans-serif" fill="#000" stroke="#000" stroke-width="0.2">3</text>
<text x="215.78" y="612.75" font-size="20" font-family="Liberation Sans, sans-serif" fill="#000" stroke="#000" stroke-width="0.2">4</text>
<text x="215.78" y="575.90" font-size="20" font-family="Liberation Sans, sans-serif" fill="#000" stroke="#000" stroke-width="0.2">5</text>
<text x="224.24" y="773.80" font-size="20" font-family="Liberation Sans, sans-serif" fill="#000" stroke="#000" stroke-width="0.2">3</text>
<text x="376.94" y="773.80" font-size="20" font-family="Liberation Sans, sans-serif" fill="#000" stroke="#000" stroke-width="0.2">3</text>
<text x="388.06" y="773.80" font-size="20" font-family="Liberation Sans, sans-serif" fill="#000" stroke="#000" stroke-width="0.2">.</text>
<text x="393.62" y="773.80" font-size="20" font-family="Liberation Sans, sans-serif" fill="#000" stroke="#000" stroke-width="0.2">0</text>
<text x="404.74" y="773.80" font-size="20" font-family="Liberation Sans, sans-serif" fill="#000" stroke="#000" stroke-width="0.2">5</text>
<text x="549.10" y="773.80" font-size="20" font-family="Liberation Sans, sans-serif" fill="#000" stroke="#000" stroke-width="0.2">3</text>
<text x="560.22" y="773.80" font-size="20" font-family="Liberation Sans, sans-serif" fill="#000" stroke="#000" stroke-width="0.2">.</text>
<path transform="translate(565.78,773.80) scale(0.00977,-0.00977)" d="M555 0L741 0L741 1409L625 1409L215 1035L212 975L240 925L290 905L555 1150Z" fill="#000" stroke="#000" stroke-width="20.5" stroke-linejoin="round"/>
<text x="228.90" y="565.60" font-size="20" font-family="Liberation Sans, sans-serif" fill="#000" stroke="#000" stroke-width="0.2">x</text>
<path transform="translate(244.46,565.60) scale(0.00977,-0.00977)" d="M555 0L741 0L741 1409L625 1409L215 1035L212 975L240 925L290 905L555 1150Z" fill="#000" stroke="#000" stroke-width="20.5" stroke-linejoin="round"/>
<text x="255.58" y="565.60" font-size="20" font-family="Liberation Sans, sans-serif" fill="#000" stroke="#000" stroke-width="0.2">0</text>
<text x="266.30" y="553.60" font-size="13" font-family="Liberation Sans, sans-serif" fill="#000" stroke="#000" stroke-width="0.15">-</text>
<text x="270.63" y="553.60" font-size="13" font-family="Liberation Sans, sans-serif" fill="#000" stroke="#000" stroke-width="0.15">3</text>
</svg>
</body></html>
